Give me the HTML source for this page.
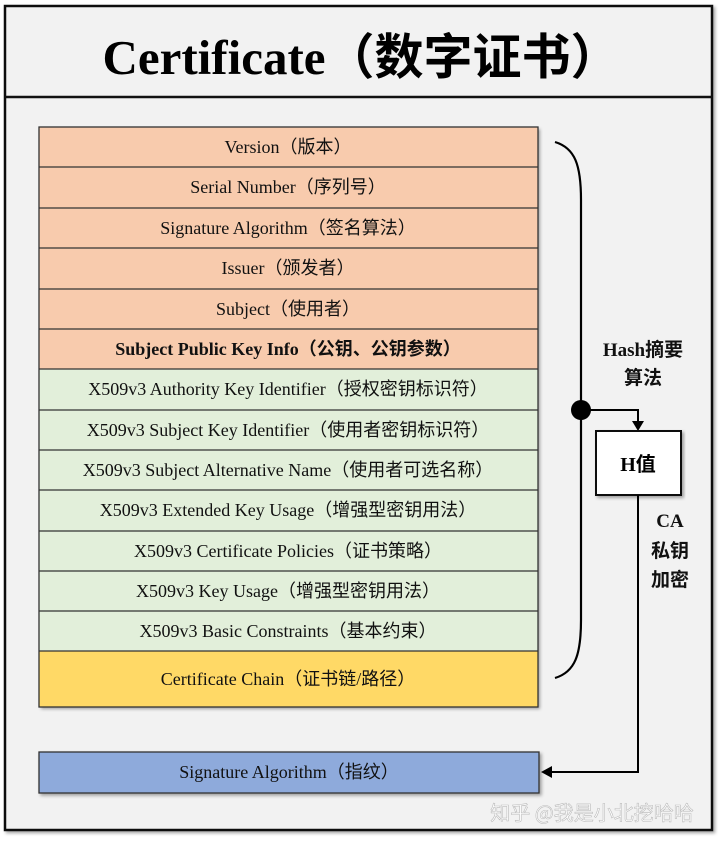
<!DOCTYPE html>
<html><head><meta charset="utf-8"><style>
body{margin:0;background:#fff;}
svg text{font-family:"Liberation Serif","Noto Sans CJK SC",serif;}
</style></head><body>
<svg width="720" height="841" viewBox="0 0 720 841" xmlns="http://www.w3.org/2000/svg">
<defs><filter id="sh" x="-5%" y="-5%" width="110%" height="120%"><feDropShadow dx="2" dy="2" stdDeviation="1.5" flood-color="#000" flood-opacity="0.35"/></filter></defs>
<rect x="5" y="6" width="707" height="824" fill="#f2f2f2" stroke="#111" stroke-width="2.5" filter="url(#sh)"/>
<line x1="5" y1="97" x2="712" y2="97" stroke="#111" stroke-width="2.5"/>
<text x="361" y="74" text-anchor="middle" font-size="49" font-weight="bold" fill="#000">Certificate（数字证书）</text>
<g filter="url(#sh)">
<rect x="39" y="127" width="499" height="242" fill="#f8cbad"/>
<rect x="39" y="369" width="499" height="282" fill="#e2efda"/>
<rect x="39" y="651" width="499" height="56" fill="#ffd966"/>
</g>
<g stroke="#333" stroke-width="1.3" fill="none">
<rect x="39" y="127" width="499" height="580"/>
<line x1="39" y1="167" x2="538" y2="167"/><line x1="39" y1="208" x2="538" y2="208"/>
<line x1="39" y1="248" x2="538" y2="248"/><line x1="39" y1="289" x2="538" y2="289"/>
<line x1="39" y1="329" x2="538" y2="329"/><line x1="39" y1="369" x2="538" y2="369"/>
<line x1="39" y1="410" x2="538" y2="410"/><line x1="39" y1="450" x2="538" y2="450"/>
<line x1="39" y1="490" x2="538" y2="490"/><line x1="39" y1="531" x2="538" y2="531"/>
<line x1="39" y1="571" x2="538" y2="571"/><line x1="39" y1="611" x2="538" y2="611"/>
<line x1="39" y1="651" x2="538" y2="651"/>
</g>
<g font-size="18" text-anchor="middle" fill="#111">
<text x="288" y="153">Version（版本）</text>
<text x="288" y="193">Serial Number（序列号）</text>
<text x="288" y="234">Signature Algorithm（签名算法）</text>
<text x="288" y="274">Issuer（颁发者）</text>
<text x="288" y="315">Subject（使用者）</text>
<text x="288" y="355" font-weight="bold">Subject Public Key Info（公钥、公钥参数）</text>
<text x="288" y="395">X509v3 Authority Key Identifier（授权密钥标识符）</text>
<text x="288" y="436">X509v3 Subject Key Identifier（使用者密钥标识符）</text>
<text x="288" y="476">X509v3 Subject Alternative Name（使用者可选名称）</text>
<text x="288" y="516">X509v3 Extended Key Usage（增强型密钥用法）</text>
<text x="288" y="557">X509v3 Certificate Policies（证书策略）</text>
<text x="288" y="597">X509v3 Key Usage（增强型密钥用法）</text>
<text x="288" y="637">X509v3 Basic Constraints（基本约束）</text>
<text x="288" y="685">Certificate Chain（证书链/路径）</text>
</g>
<rect x="39" y="752" width="500" height="41" fill="#8eaadb" stroke="#333" stroke-width="1.3" filter="url(#sh)"/>
<text x="289" y="778" font-size="18" text-anchor="middle" fill="#111">Signature Algorithm（指纹）</text>
<path d="M555 142 C575 148 581 165 581 200 L581 620 C581 655 575 672 555 678" fill="none" stroke="#000" stroke-width="2.2"/>
<circle cx="581" cy="410" r="10" fill="#000"/>
<path d="M581 410 L638 410 L638 424" fill="none" stroke="#000" stroke-width="2"/>
<polygon points="632,421 644,421 638,431" fill="#000"/>
<rect x="596" y="431" width="85" height="64" fill="#fff" stroke="#111" stroke-width="2" filter="url(#sh)"/>
<text x="638" y="471" font-size="20" font-weight="bold" text-anchor="middle">H值</text>
<path d="M638 495 L638 772 L552 772" fill="none" stroke="#000" stroke-width="2"/>
<polygon points="541,772 552,766 552,778" fill="#000"/>
<g font-size="19" font-weight="bold" text-anchor="middle" fill="#111">
<text x="643" y="356">Hash摘要</text>
<text x="643" y="384">算法</text>
<text x="670" y="527">CA</text>
<text x="670" y="557">私钥</text>
<text x="670" y="586">加密</text>
</g>
<text x="592" y="820" font-size="20" text-anchor="middle" fill="#fff" stroke="#bbb" stroke-width="0.6" style="font-family:'Noto Sans CJK SC',sans-serif">知乎 @我是小北挖哈哈</text>
</svg>
</body></html>
